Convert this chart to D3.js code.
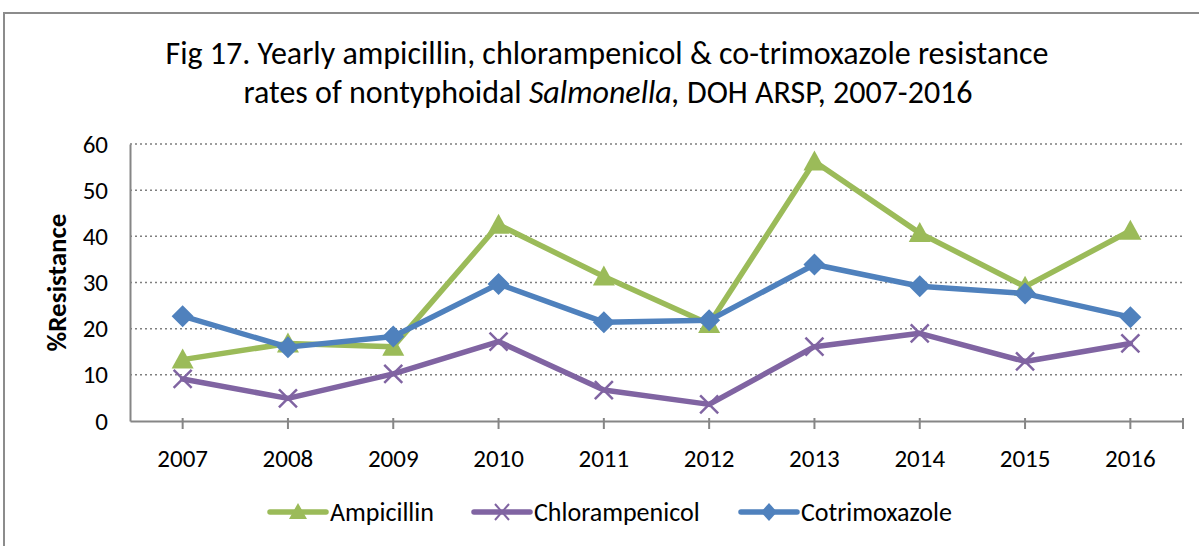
<!DOCTYPE html>
<html>
<head>
<meta charset="utf-8">
<script src="https://cdn.jsdelivr.net/npm/d3@7"></script>
<style>
  body { margin: 0; background: #fff; }
  text { font-family: Carlito, "Liberation Sans Narrow", "Open Sans", sans-serif; fill: #000; }
</style>
</head>
<body>
<svg id="chart" width="1199" height="546"></svg>
<script>
var years = ["2007", "2008", "2009", "2010", "2011", "2012", "2013", "2014", "2015", "2016"];
var ampicillin = [13.3, 16.8, 16.1, 42.5, 31.3, 21.0, 56.2, 40.7, 29.1, 41.2];
var chlorampenicol = [9.1, 4.9, 10.2, 17.2, 6.7, 3.6, 16.1, 19.0, 12.9, 16.8];
var cotrimoxazole = [22.7, 16.0, 18.3, 29.7, 21.4, 21.8, 33.9, 29.2, 27.6, 22.5];
var yTicks = [0, 10, 20, 30, 40, 50, 60];

var series = [
    {name: "Ampicillin", values: ampicillin, color: "#9BBB59", marker: "triangle"},
    {name: "Chlorampenicol", values: chlorampenicol, color: "#8064A2", marker: "x"},
    {name: "Cotrimoxazole", values: cotrimoxazole, color: "#4F81BD", marker: "diamond"}
];

var svg = d3.select("#chart"),
    margin = {top: 144, right: 16, bottom: 125, left: 130},
    width = +svg.attr("width") - margin.left - margin.right,
    height = +svg.attr("height") - margin.top - margin.bottom;

// outer chart border
svg.append("rect")
    .attr("x", 4).attr("y", 13)
    .attr("width", 1199).attr("height", 560)
    .attr("fill", "none")
    .attr("stroke", "#8c8c8c")
    .attr("stroke-width", 2);

// title
var title = svg.append("text")
    .attr("text-anchor", "middle")
    .style("font-size", "32px");
title.append("tspan").attr("x", 607).attr("y", 64)
    .text("Fig 17. Yearly ampicillin, chlorampenicol & co-trimoxazole resistance");
var t2 = title.append("tspan").attr("x", 608).attr("y", 103);
t2.append("tspan").text("rates of nontyphoidal ");
t2.append("tspan").attr("font-style", "italic").text("Salmonella,");
t2.append("tspan").text(" DOH ARSP, 2007-2016");

var g = svg.append("g")
    .attr("transform", "translate(" + margin.left + "," + margin.top + ")");

var x = d3.scaleBand()
    .domain(years)
    .range([0, width]);

var y = d3.scaleLinear()
    .domain([0, 60])
    .range([height, 0]);

// gridlines
g.selectAll(".grid")
    .data(yTicks.filter(function(d) { return d > 0; }))
    .enter().append("line")
    .attr("class", "grid")
    .attr("x1", 0).attr("x2", width)
    .attr("y1", function(d) { return y(d); })
    .attr("y2", function(d) { return y(d); })
    .attr("stroke", "#7f7f7f")
    .attr("stroke-width", 1.5)
    .attr("stroke-dasharray", "2,3");

// y axis
var yAxisCall = d3.axisLeft(y).tickValues(yTicks).tickSize(0).tickPadding(22);
var yAxis = g.append("g").attr("class", "y axis").call(yAxisCall);
yAxis.attr("font-size", null).attr("font-family", null);
yAxis.select(".domain").attr("stroke", "#868686").attr("stroke-width", 2);
yAxis.selectAll("text").style("font-size", "25px").attr("fill", "#000");

// x axis
var xAxisCall = d3.axisBottom(x).tickSize(0).tickPadding(28);
var xAxis = g.append("g")
    .attr("class", "x axis")
    .attr("transform", "translate(0," + height + ")")
    .call(xAxisCall);
xAxis.attr("font-size", null).attr("font-family", null);
xAxis.select(".domain").attr("stroke", "#868686").attr("stroke-width", 2);
xAxis.selectAll("text").style("font-size", "25px").attr("fill", "#000");

var tickXs = years.map(function(d) { return x(d) + x.bandwidth() / 2; }).concat([width]);
xAxis.selectAll(".mtick")
    .data(tickXs)
    .enter().append("line")
    .attr("class", "mtick")
    .attr("x1", function(d) { return d; })
    .attr("x2", function(d) { return d; })
    .attr("y1", -3).attr("y2", 8)
    .attr("stroke", "#868686")
    .attr("stroke-width", 2);

// y title
svg.append("text")
    .attr("transform", "translate(66," + (margin.top + height / 2) + ") rotate(-90)")
    .attr("text-anchor", "middle")
    .style("font-size", "27px")
    .attr("font-weight", "bold")
    .text("%Resistance");

var line = d3.line()
    .x(function(d, i) { return x(years[i]) + x.bandwidth() / 2; })
    .y(function(d) { return y(d); });

function drawMarker(sel, type, color) {
    if (type === "triangle") {
        sel.append("path")
            .attr("d", "M0,-11L11,9L-11,9Z")
            .attr("fill", color);
    } else if (type === "diamond") {
        sel.append("path")
            .attr("d", "M0,-11L11,0L0,11L-11,0Z")
            .attr("fill", color);
    } else {
        sel.append("path")
            .attr("d", "M-9,-9L9,9M-9,9L9,-9")
            .attr("stroke", color)
            .attr("stroke-width", 2.5)
            .attr("fill", "none");
    }
}

series.forEach(function(s) {
    g.append("path")
        .datum(s.values)
        .attr("fill", "none")
        .attr("stroke", s.color)
        .attr("stroke-width", 5.5)
        .attr("stroke-linejoin", "round")
        .attr("stroke-linecap", "round")
        .attr("d", line);

    g.selectAll(".pt-" + s.marker)
        .data(s.values)
        .enter().append("g")
        .attr("class", "pt-" + s.marker)
        .attr("transform", function(d, i) {
            return "translate(" + (x(years[i]) + x.bandwidth() / 2) + "," + y(d) + ")";
        })
        .each(function() { drawMarker(d3.select(this), s.marker, s.color); });
});

// legend
var legendX = [270, 474, 741];
var legend = svg.selectAll(".legend")
    .data(series)
    .enter().append("g")
    .attr("class", "legend")
    .attr("transform", function(d, i) { return "translate(" + legendX[i] + ",512)"; });

legend.append("line")
    .attr("x1", 0).attr("x2", 56)
    .attr("y1", 0).attr("y2", 0)
    .attr("stroke", function(d) { return d.color; })
    .attr("stroke-width", 5.5)
    .attr("stroke-linecap", "round");

legend.each(function(d) {
    var m = d3.select(this).append("g").attr("transform", "translate(28,0)");
    if (d.marker === "triangle") {
        m.append("path").attr("d", "M0,-9L9,7L-9,7Z").attr("fill", d.color);
    } else if (d.marker === "diamond") {
        m.append("path").attr("d", "M0,-9L8,0L0,9L-8,0Z").attr("fill", d.color);
    } else {
        m.append("path").attr("d", "M-7,-8L7,8M-7,8L7,-8")
            .attr("stroke", d.color).attr("stroke-width", 2).attr("fill", "none");
    }
});

legend.append("text")
    .attr("x", 60)
    .attr("y", 9)
    .style("font-size", "26px")
    .text(function(d) { return d.name; });
</script>
</body>
</html>
